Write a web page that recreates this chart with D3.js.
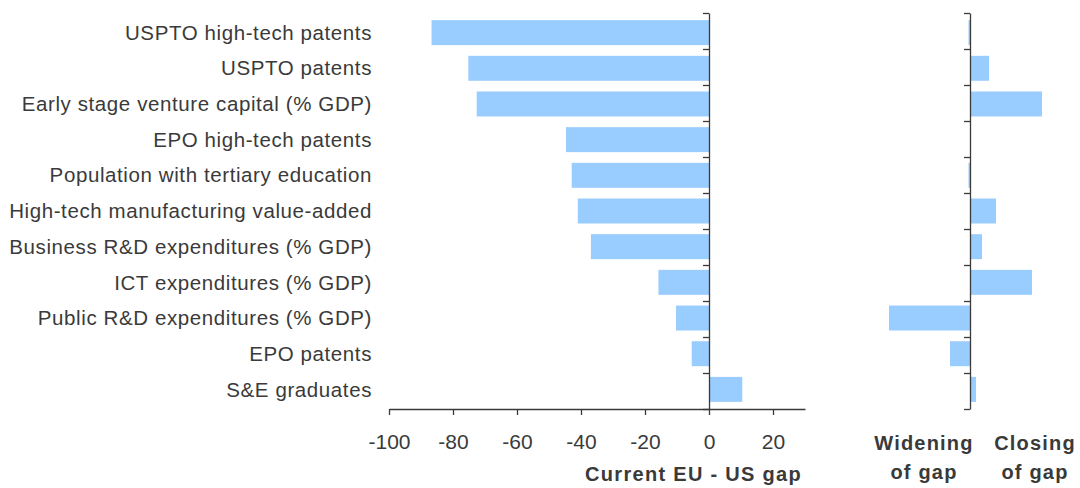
<!DOCTYPE html>
<html>
<head>
<meta charset="utf-8">
<script src="https://cdn.jsdelivr.net/npm/d3@7"></script>
<style>
  html, body { margin: 0; padding: 0; background: #ffffff; }
  svg { display: block; }
  text { font-family: "Liberation Sans", Arial, sans-serif; }
</style>
</head>
<body>
<svg id="chart" width="1080" height="488"></svg>
<script>
// Indicators, top to bottom
const categories = [
  "USPTO high-tech patents",
  "USPTO patents",
  "Early stage venture capital (% GDP)",
  "EPO high-tech patents",
  "Population with tertiary education",
  "High-tech manufacturing value-added",
  "Business R&D expenditures (% GDP)",
  "ICT expenditures (% GDP)",
  "Public R&D expenditures (% GDP)",
  "EPO patents",
  "S&E graduates"
];
// Current EU - US gap
const currentGap = [-86.7, -75.2, -72.6, -44.7, -42.9, -41.0, -36.9, -15.8, -10.3, -5.4, 10.4];
// Change in the gap (negative = widening, positive = closing)
const gapChange = [-1.5, 19, 72, 0, -1.5, 26, 12, 62, -81, -20, 6];
const xTicks = [-100, -80, -60, -40, -20, 0, 20];
const xTitle = "Current EU - US gap";
const rightTitles = [["Widening", "of gap"], ["Closing", "of gap"]];

const svg = d3.select("#chart");
const barColor = "#99ccff";
const axisColor = "#3a3a3a";
const textColor = "#3a3a3a";

const plotTop = 13, plotBottom = 409;
const y = d3.scaleBand().domain(categories).range([plotTop, plotBottom])
  .paddingInner(0.3).paddingOuter(0.2);
const yIdx = d3.scaleLinear().domain([0, categories.length]).range([plotTop, plotBottom]);

const x = d3.scaleLinear().domain([-100, 30]).range([389, 805]);
const xR = d3.scaleLinear().domain([-100, 100]).range([870, 1070]);

// Left panel bars
svg.append("g").selectAll("rect").data(categories).join("rect")
  .attr("x", (d, i) => x(Math.min(0, currentGap[i])))
  .attr("y", d => y(d))
  .attr("width", (d, i) => Math.abs(x(currentGap[i]) - x(0)))
  .attr("height", y.bandwidth())
  .attr("fill", barColor);

// Right panel bars
svg.append("g").selectAll("rect").data(categories).join("rect")
  .attr("x", (d, i) => xR(Math.min(0, gapChange[i])))
  .attr("y", d => y(d))
  .attr("width", (d, i) => Math.abs(xR(gapChange[i]) - xR(0)))
  .attr("height", y.bandwidth())
  .attr("fill", barColor);

// Category labels
svg.append("g").selectAll("text").data(categories).join("text")
  .attr("x", 372)
  .attr("y", d => y(d) + y.bandwidth() / 2)
  .attr("dy", "0.35em")
  .attr("text-anchor", "end")
  .attr("font-size", 20.5)
  .attr("letter-spacing", 0.6)
  .attr("fill", textColor)
  .text(d => d);

function styleAxis(g) {
  g.selectAll("path, line").attr("stroke", axisColor).attr("stroke-width", 1.3);
}

// Bottom value axis
const xAxis = svg.append("g")
  .attr("transform", `translate(0,${plotBottom})`)
  .call(d3.axisBottom(x).tickValues(xTicks).tickSize(6).tickSizeOuter(0)
    .tickPadding(19).tickFormat(d => String(d)));
styleAxis(xAxis);
xAxis.selectAll("text")
  .attr("font-size", 21)
  .attr("fill", textColor)
  .attr("font-family", "Liberation Sans, Arial, sans-serif");

// Zero line with category separators (left panel)
const yAxisL = svg.append("g")
  .attr("transform", `translate(${x(0)},0)`)
  .call(d3.axisLeft(yIdx).tickValues(d3.range(categories.length + 1))
    .tickSize(6).tickSizeOuter(0).tickFormat(""));
styleAxis(yAxisL);

// Zero line with category separators (right panel)
const yAxisR = svg.append("g")
  .attr("transform", `translate(${xR(0)},0)`)
  .call(d3.axisLeft(yIdx).tickValues(d3.range(categories.length + 1))
    .tickSize(6).tickSizeOuter(0).tickFormat(""));
styleAxis(yAxisR);

// Axis titles
svg.append("text")
  .attr("x", 802).attr("y", 481)
  .attr("text-anchor", "end")
  .attr("font-size", 20).attr("font-weight", "bold")
  .attr("letter-spacing", 1.3)
  .attr("fill", textColor)
  .text(xTitle);

const rightCenters = [924, 1035];
rightTitles.forEach((lines, k) => {
  const t = svg.append("text")
    .attr("text-anchor", "middle")
    .attr("font-size", 20).attr("font-weight", "bold")
    .attr("letter-spacing", 1.2)
    .attr("fill", textColor);
  lines.forEach((ln, j) => {
    t.append("tspan").attr("x", rightCenters[k]).attr("y", 450 + j * 29).text(ln);
  });
});
</script>
</body>
</html>
